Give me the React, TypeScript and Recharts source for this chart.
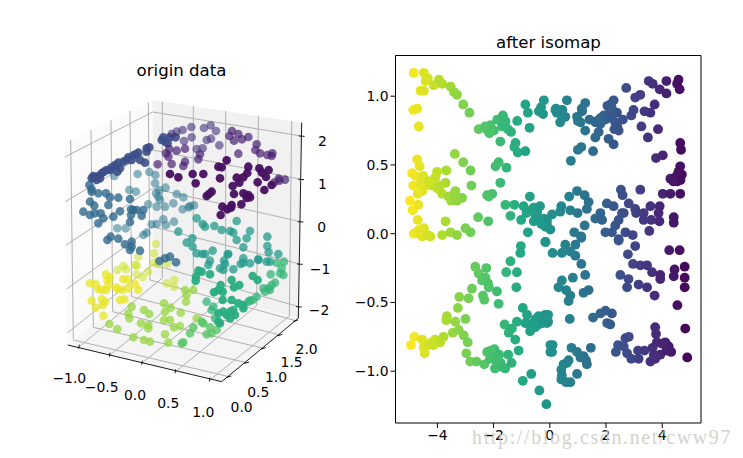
import React from "react";
import { ScatterChart, Scatter, XAxis, YAxis } from "recharts";

type Pt = [number, number];

// ---- right panel: isomap embedding [component 1, component 2]
const isomapPoints: Pt[] = [
  [-4.84, 1.17], [-4.48, 1.17], [-4.34, 1.13], [-4.42, 1.11], [-4.13, 1.08], [-3.94, 1.12], [-3.83, 1.09], [-3.53, 1.07],
  [-3.41, 1.03], [-3.3, 1.01], [-4.6, 1.04], [-4.48, 1.04], [-3.08, 0.94], [-2.86, 0.88], [-4.86, 0.9], [-4.72, 0.91],
  [-4.66, 0.78], [-2.53, 0.76], [-2.21, 0.75], [-2.11, 0.79], [-1.99, 0.75], [-1.87, 0.83], [-1.67, 0.86], [-1.58, 0.82],
  [-1.7, 0.78], [-1.49, 0.76], [-1.38, 0.74], [-1.16, 0.82], [-0.87, 0.94], [-0.78, 0.88], [-0.21, 0.97], [-0.31, 0.92],
  [-0.39, 0.89], [-0.24, 0.87], [-0.72, 0.77], [-1.76, 0.67], [-1.22, 0.66], [-1.26, 0.63], [-1.14, 0.59], [-0.87, 0.6],
  [-1.82, 0.52], [-1.93, 0.49], [-1.54, 0.48], [-1.76, 0.37], [-2.23, 0.28], [-2.05, 0.29], [-2.17, 0.27], [-3.38, 0.58],
  [-3.08, 0.52], [-2.82, 0.46], [-2.79, 0.35], [-4.72, 0.54], [-4.63, 0.49], [-4.9, 0.44], [-4.78, 0.42], [-3.68, 0.46],
  [-4.01, 0.45], [-4.07, 0.41], [-3.71, 0.37], [-4.54, 0.39], [-4.42, 0.35], [-4.86, 0.35], [-4.19, 0.35], [-4.01, 0.33],
  [-3.83, 0.29], [-4.54, 0.31], [-4.7, 0.29], [-3.36, 0.31], [-3.12, 0.26], [-3.45, 0.28], [-3.51, 0.24], [-3.3, 0.24],
  [-4.98, 0.24], [-4.68, 0.21], [-4.88, 0.17], [-4.7, 0.1], [-3.71, 0.09], [-2.55, 0.12], [-2.19, 0.09], [-4.48, 0.04],
  [-4.84, 0], [-4.66, 0], [-4.54, -0.02], [-4.25, -0.02], [-3.83, -0.01], [-3.53, 0.01], [-3.3, -0.01], [-3, 0.04],
  [-2.82, 0.01], [-1.58, 0.21], [-1.26, 0.21], [-1.4, 0.13], [-1.02, 0.1], [-0.93, 0.2], [-0.71, 0.27], [-0.57, 0.19],
  [-0.83, 0.15], [-0.45, 0.16], [-0.57, 0.09], [-0.21, 0.11], [-0.15, 0.05], [-0.78, 0.01], [-0.15, -0.06],
  [0.61, 0.97], [0.31, 0.9], [0.2, 0.9], [0.37, 0.81], [0.55, 0.85], [0.43, 0.86], [0.25, 0.88], [1.26, 0.95],
  [1.14, 0.91], [0.97, 0.85], [1.09, 0.81], [1.26, 0.75], [1.41, 0.83], [1.62, 0.81], [1.8, 0.84], [1.92, 0.86],
  [2.15, 0.94], [2.27, 0.97], [2.15, 0.89], [2.39, 0.88], [2.33, 0.81], [2.45, 0.75], [2.09, 0.69], [2.27, 0.65],
  [1.74, 0.74], [1.62, 0.7], [2.6, 0.83], [2.72, 1.06], [3.04, 0.99], [3.22, 1.01], [2.98, 0.9], [2.9, 0.86],
  [3.37, 0.89], [3.58, 0.88], [3.73, 0.94], [3.52, 1.11], [3.66, 1.09], [3.91, 1.05], [4.15, 1.02], [4.15, 1.11],
  [4.58, 1.12], [4.53, 1.09], [4.62, 1.05], [3.26, 0.78], [3.85, 0.76], [3.49, 0.7], [4.64, 0.66], [4.67, 0.61],
  [4.02, 0.57], [3.78, 0.55], [4.64, 0.49], [4.58, 0.45], [4.7, 0.43], [4.29, 0.4], [4.47, 0.41], [4.53, 0.38],
  [4.61, 0.41], [4.02, 0.29], [4.29, 0.29], [4.64, 0.29], [3.22, 0.32], [2.53, 0.32], [2.59, 0.28], [1.12, 0.63],
  [1, 0.61], [1.54, 0.6], [0.75, 0.53], [0.97, 0.31], [0.69, 0.27], [1.24, 0.28], [1.38, 0.23], [1.32, 0.18],
  [0.99, 0.15], [0.73, 0.17], [0.41, 0.2], [0.37, 0.16], [0.08, 0.14], [0.02, 0.03], [-0.1, 0.1], [1.24, 0.06],
  [0.87, 0.01], [1.12, -0.02], [2.03, 0.22], [2.27, 0.2], [2.63, 0.15], [2.81, 0.22], [3.04, 0.18], [3.07, 0.15],
  [3.34, 0.15], [3.58, 0.2], [3.91, 0.2], [3.87, 0.15], [3.9, 0.09], [3.61, 0.1], [3.34, 0.1], [4.41, 0.12],
  [4.41, 0.08], [3.54, 0.02], [1.8, 0.15], [1.62, 0.11], [1.86, 0.1], [1.98, 0.01], [2.33, 0.06], [2.45, 0.1],
  [2.21, 0.01], [2.45, -0.04], [2.69, 0.01], [2.95, -0.01], [2.57, 0.15],
  [-2.65, -0.24], [-2.26, -0.25], [-2.53, -0.29], [-2.29, -0.32], [-2.41, -0.34], [-2.17, -0.39], [-1.88, -0.42], [-2.77, -0.4],
  [-2.89, -0.47], [-3.22, -0.46], [-2.38, -0.45], [-2.33, -0.48], [-1.82, -0.51], [-3.27, -0.54], [-3.66, -0.6], [-3.68, -0.63],
  [-3.36, -0.64], [-3, -0.62], [-3.45, -0.72], [-3.24, -0.7], [-3.06, -0.74], [-2.92, -0.79], [-3.78, -0.75], [-4.08, -0.77],
  [-3.9, -0.79], [-4.13, -0.81], [-4.82, -0.75], [-4.54, -0.77], [-4.94, -0.81], [-4.49, -0.83], [-4.45, -0.87], [-4.31, -0.81],
  [-2.97, -0.87], [-2.83, -0.93], [-2.61, -0.93], [-2.33, -0.95], [-2.23, -0.86], [-1.97, -0.84], [-2.13, -0.91], [-1.95, -0.98],
  [-1.75, -0.94], [-1.59, -0.98], [-1.48, -0.88], [-1.36, -0.94], [-1.11, -0.85], [-1.23, -0.77], [-1.61, -0.66], [-1.46, -0.72],
  [-1.17, -0.64], [-1.35, -0.69], [-0.96, -0.54], [-0.81, -0.59], [-0.87, -0.65], [-0.7, -0.71], [-0.52, -0.68], [-0.4, -0.6],
  [-0.16, -0.59], [-0.1, -0.65], [-0.96, -1.07], [-0.66, -1.02], [-0.37, -1.14], [-0.12, -1.24], [-1.4, -0.2], [-1.55, -0.28],
  [-1.17, -0.28], [-1.19, -0.39], [-1.03, -0.09], [-1.05, -0.14], [-0.16, -0.06], [0.02, -0.81], [0.02, -0.86],
  [0.1, -0.14], [0.43, -0.14], [0.55, -0.08], [0.91, -0.08], [0.91, -0.16], [0.73, -0.13], [1.12, -0.22], [1.26, -0.3],
  [0.82, -0.32], [0.43, -0.34], [0.31, -0.39], [0.58, -0.41], [0.73, -0.45], [0.67, -0.49], [1.2, -0.43], [1.38, -0.41],
  [1.12, -0.03], [2.45, -0.05], [3.04, -0.09], [2.78, -0.15], [4.25, -0.12], [4.62, -0.12], [2.96, -0.22], [3.22, -0.23],
  [3.46, -0.23], [3.64, -0.28], [3.93, -0.3], [3.93, -0.33], [4.44, -0.26], [4.41, -0.31], [4.8, -0.24], [4.8, -0.32],
  [4.8, -0.39], [2.51, -0.3], [2.8, -0.33], [2.75, -0.39], [3.16, -0.37], [3.46, -0.39], [3.73, -0.45], [4.54, -0.52],
  [0.71, -0.62], [-0.06, -0.59], [-0.06, -0.64], [1.54, -0.61], [1.8, -0.58], [1.98, -0.56], [2.21, -0.58], [2.04, -0.65],
  [2.15, -0.66], [3.75, -0.68], [3.78, -0.73], [4.82, -0.69], [2.69, -0.76], [2.81, -0.75], [2.43, -0.81], [2.35, -0.86],
  [2.63, -0.82], [2.75, -0.87], [2.9, -0.91], [3.16, -0.91], [3.14, -0.85], [3.37, -0.85], [3.66, -0.83], [4.11, -0.79],
  [3.81, -0.79], [4.23, -0.82], [4.32, -0.86], [3.93, -0.88], [3.58, -0.93], [3.75, -0.91], [4.89, -0.9], [0.1, -0.81],
  [0.08, -0.86], [0.77, -0.83], [0.97, -0.86], [1.2, -0.89], [1.46, -0.83], [1.29, -0.92], [1.32, -0.95], [1.09, -0.9],
  [0.67, -0.92], [0.49, -0.95], [0.41, -0.99], [0.43, -1.03], [0.41, -1.06], [0.58, -1.08], [0.73, -1.08], [0.97, -1.02],
  [0.61, -0.94],
  // denser spots
  [2.05, 0.93], [2.2, 0.92], [2.1, 0.85], [1.98, 0.83], [2.2, 0.84], [2.3, 0.76], [2.4, 0.78], [1.8, 0.8], [1.68, 0.82],
  [1, 0.82], [1.15, 0.89], [0.45, 0.9], [0.22, 0.91], [-0.5, 0.13], [-0.4, 0.11], [-0.35, 0.2], [-0.65, 0.17], [-0.1, 0.07],
  [-0.3, 0.07], [-0.4, -0.66], [-0.5, -0.62], [-0.3, -0.62], [-0.25, -0.65], [-0.75, -0.66], [-0.6, -0.65], [-0.2, -0.63],
  [4.55, 0.43], [4.65, 0.39], [4.4, 0.38], [-4.7, 0.02], [-4.6, 0.03], [-4.35, -0.01], [-4.6, 0.36], [-4.5, 0.42], [-4.3, 0.38],
  [-3.9, 0.35], [-3.6, 0.27], [-3.4, 0.27], [-2.1, 0.77], [-2.3, 0.78], [-2.15, 0.73], [-1.6, 0.79], [-2.1, -0.85], [-2, -0.9],
  [-1.8, -0.88], [-1.9, -0.93], [-1.7, -0.97], [-2.3, -0.33], [-2.2, -0.36], [-4.2, -0.79], [3.7, -0.88], [4, -0.8], [4.15, -0.85],
];
const isomapXTicks = [-4, -2, 0, 2, 4];
const isomapYTicks = [-1, -0.5, 0, 0.5, 1];

// ---- left panel: the 3d view, everything in projected view units (3 units = 1px)
const purpleFront: Pt[] = [
  [683, 397], [725, 405], [703, 420], [688, 355], [716, 360], [696, 368], [708, 381], [655, 350], [652, 369], [640, 382],
  [620, 383], [628, 398], [608, 408], [612, 432], [640, 430], [655, 435], [660, 442], [650, 444], [634, 463], [605, 465],
  [603, 473], [577, 470], [592, 478], [572, 495], [575, 352], [590, 331], [565, 350], [570, 385], [497, 400], [520, 372],
  [488, 372], [445, 382], [420, 372], [545, 425], [537, 432], [530, 438],
];
const purpleMid: Pt[] = [
  [606, 243], [598, 258], [625, 252], [655, 261], [636, 268], [612, 272], [625, 311], [680, 283], [676, 300], [690, 310],
  [712, 315], [727, 310], [725, 318], [746, 386], [765, 389], [748, 392], [732, 398], [383, 343], [425, 342], [460, 348],
  [465, 335], [408, 310], [415, 320], [418, 297], [440, 302], [465, 296], [505, 328], [510, 313],
];
const indigoBack: Pt[] = [
  [458, 240], [440, 245], [425, 252], [484, 231], [522, 234], [542, 226], [558, 243], [485, 262], [462, 273], [500, 297],
  [518, 295], [543, 266], [530, 270], [568, 286],
];
const blueRidge: Pt[] = [
  [185, 385], [195, 382], [205, 378], [215, 370], [230, 360], [245, 352], [265, 338], [280, 335], [295, 322], [310, 316],
  [325, 308], [350, 295], [358, 292], [395, 270], [405, 275], [420, 262], [437, 262], [413, 280], [350, 305], [345, 338],
  [330, 330], [305, 330], [270, 355], [262, 365], [240, 360], [210, 385], [200, 390], [190, 378], [222, 365], [255, 345],
  [290, 330], [318, 312], [400, 262],
];
const tealBlue: Pt[] = [
  [178, 405], [185, 418], [205, 430], [185, 425], [228, 430], [240, 442], [265, 443], [300, 447], [235, 465], [180, 455],
  [193, 467], [160, 485], [180, 495], [195, 490], [212, 490], [205, 520], [220, 505], [250, 500], [270, 484], [303, 478],
  [310, 480], [320, 480], [300, 516], [303, 495], [340, 480], [335, 497], [242, 560], [232, 570], [265, 566], [285, 583],
  [305, 575], [300, 600], [330, 602], [305, 590], [388, 633], [405, 625], [420, 620], [438, 637],
];
const tealLight: Pt[] = [
  [253, 378], [323, 372], [358, 366], [376, 375], [375, 400], [318, 425], [298, 420], [388, 420], [407, 413], [378, 430],
  [385, 440], [355, 463], [380, 470], [405, 470], [430, 460], [440, 432], [460, 442], [390, 450], [480, 468], [492, 466],
  [458, 478], [476, 472], [400, 508], [365, 523], [380, 522], [408, 525], [432, 515], [350, 548], [340, 555], [262, 535],
  [287, 535],
];
const greenTeal: Pt[] = [
  [445, 545], [500, 505], [518, 522], [525, 530], [553, 528], [575, 540], [620, 513], [600, 543], [610, 548], [660, 543],
  [470, 578], [487, 565], [488, 590], [500, 610], [525, 612], [548, 602], [595, 612], [640, 592], [620, 570], [650, 565],
  [712, 560], [712, 588], [716, 607], [685, 628], [745, 612], [640, 625], [517, 612], [593, 613], [540, 632], [535, 645],
  [582, 632], [585, 642], [570, 655], [580, 660], [610, 658], [632, 642], [640, 638], [660, 640], [685, 630], [710, 635],
  [720, 635],
];
const greenMid: Pt[] = [
  [505, 662], [515, 665], [498, 680], [497, 692], [540, 673], [605, 690], [628, 705], [612, 712], [668, 678], [683, 690],
  [552, 727], [572, 705], [565, 720], [578, 725], [578, 750], [580, 785], [565, 790], [600, 785], [610, 780], [615, 795],
  [600, 805], [565, 815], [570, 820], [590, 795], [640, 765], [640, 775], [625, 760], [605, 750],
];
const greenRight: Pt[] = [
  [762, 635], [740, 638], [755, 655], [750, 670], [760, 675], [722, 673], [735, 698], [725, 705], [715, 715], [700, 715],
  [720, 720], [705, 725], [680, 740], [660, 752], [668, 750], [655, 755], [555, 805], [530, 755], [550, 770], [545, 780],
];
const greenBottom: Pt[] = [
  [540, 832], [560, 840], [545, 850], [530, 853], [520, 820], [515, 815], [490, 832], [480, 850], [460, 877], [455, 880],
];
const limeFloor: Pt[] = [
  [490, 720], [465, 720], [470, 735], [468, 755], [402, 760], [422, 773], [405, 785], [452, 788], [500, 805], [402, 810],
  [420, 810], [432, 832], [450, 828], [405, 853], [415, 878], [342, 780], [358, 792], [305, 770], [295, 790], [298, 805],
  [333, 820], [355, 825], [355, 835], [238, 822], [262, 837], [310, 862], [342, 870], [360, 875],
];
const yellowGreen: Pt[] = [
  [433, 690], [410, 700], [432, 710], [355, 665], [338, 682], [320, 673], [320, 647], [325, 620], [372, 610], [378, 582],
  [372, 638], [385, 642], [412, 640], [262, 660], [288, 658], [280, 648], [315, 645],
];
const yellowFront: Pt[] = [
  [228, 673], [240, 682], [232, 690], [180, 700], [197, 703], [205, 717], [215, 720], [228, 720], [235, 705], [258, 712],
  [265, 718], [280, 688], [293, 688], [315, 702], [325, 720], [295, 715], [278, 720], [270, 750], [283, 748], [185, 752],
  [197, 773], [225, 755], [215, 748], [220, 797], [218, 765],
];
const originGroups: { points: Pt[]; t: number; alpha: number }[] = [
  { points: yellowFront, t: 0.97, alpha: 0.75 },
  { points: yellowGreen, t: 0.92, alpha: 0.55 },
  { points: limeFloor, t: 0.84, alpha: 0.75 },
  { points: greenBottom, t: 0.74, alpha: 0.8 },
  { points: greenRight, t: 0.66, alpha: 0.75 },
  { points: greenMid, t: 0.62, alpha: 0.95 },
  { points: greenTeal, t: 0.54, alpha: 0.75 },
  { points: tealLight, t: 0.4, alpha: 0.55 },
  { points: tealBlue, t: 0.34, alpha: 0.8 },
  { points: blueRidge, t: 0.24, alpha: 0.9 },
  { points: indigoBack, t: 0.14, alpha: 0.6 },
  { points: purpleMid, t: 0.09, alpha: 0.7 },
  { points: purpleFront, t: 0.04, alpha: 0.95 },
];

const leftPane: Pt[] = [[103, 280], [368, 150], [368, 675], [113, 885]];
const backPane: Pt[] = [[368, 150], [815, 218], [805, 805], [368, 675]];
const floorPane: Pt[] = [[113, 885], [368, 675], [805, 805], [575, 995]];
const panes = [
  { corners: leftPane, fill: "#fbfbfb" },
  { corners: backPane, fill: "#f1f1f1" },
  { corners: floorPane, fill: "#f5f5f5" },
];

const gridSegments: Pt[][] = [
  // back wall, x ticks
  [[397, 155], [397, 684]], [[490, 168], [490, 712]], [[587, 182], [587, 740]], [[685, 197], [680, 767]], [[785, 213], [778, 798]],
  // back wall, z ticks
  [[368, 186], [815, 258]], [[368, 300], [813, 388]], [[368, 415], [811, 515]], [[368, 530], [809, 642]], [[368, 644], [806, 770]],
  // left wall, z ticks
  [[368, 186], [104, 321]], [[368, 300], [106, 455]], [[368, 415], [108, 585]], [[368, 530], [110, 717]], [[368, 644], [112, 849]],
  // left wall, y ticks
  [[122, 270], [130, 870]], [[183, 240], [190, 832]], [[243, 210], [248, 785]], [[300, 183], [305, 740]], [[355, 157], [360, 690]],
  // floor, x ticks
  [[397, 684], [148, 890]], [[490, 712], [240, 915]], [[587, 740], [337, 938]], [[680, 767], [437, 965]], [[778, 798], [540, 990]],
  // floor, y ticks
  [[130, 870], [597, 980]], [[190, 832], [650, 938]], [[248, 785], [700, 895]], [[305, 740], [750, 855]], [[360, 690], [797, 812]],
];
const axisSegments: Pt[][] = [
  [[815, 218], [805, 805]],
  [[113, 885], [575, 995]],
  [[575, 995], [805, 805]],
  // tick marks
  [[806, 258], [824, 259]], [[805, 388], [822, 389]], [[803, 515], [820, 516]], [[801, 642], [818, 643]], [[798, 770], [815, 771]],
  [[148, 884], [146, 896]], [[240, 908], [238, 920]], [[337, 932], [335, 944]], [[437, 958], [435, 970]], [[540, 983], [538, 995]],
  [[590, 982], [604, 978]], [[643, 940], [657, 936]], [[693, 897], [707, 893]], [[743, 857], [757, 853]], [[790, 814], [804, 810]],
];
const originLabels: { u: number; v: number; text: string }[] = [
  { u: 118, v: 985, text: "−1.0" }, { u: 215, v: 1010, text: "−0.5" }, { u: 315, v: 1035, text: "0.0" },
  { u: 415, v: 1060, text: "0.5" }, { u: 520, v: 1087, text: "1.0" },
  { u: 635, v: 1072, text: "0.0" }, { u: 685, v: 1025, text: "0.5" }, { u: 738, v: 982, text: "1.0" },
  { u: 785, v: 937, text: "1.5" }, { u: 830, v: 897, text: "2.0" },
  { u: 877, v: 272, text: "2" }, { u: 877, v: 402, text: "1" }, { u: 875, v: 530, text: "0" },
  { u: 870, v: 658, text: "−1" }, { u: 867, v: 780, text: "−2" },
];

const FONT = "'DejaVu Sans', sans-serif";
const VIRIDIS = ["#440154", "#482475", "#414487", "#355f8d", "#2a788e", "#21918c", "#22a884", "#44bf70", "#7ad151", "#bddf26", "#fde725"];

// linear lookup in the viridis stops, t in 0..1
function viridis(t: number) {
  const p = Math.min(Math.max(t, 0), 1) * (VIRIDIS.length - 1);
  const i = Math.min(Math.floor(p), VIRIDIS.length - 2);
  const a = parseInt(VIRIDIS[i].slice(1), 16);
  const b = parseInt(VIRIDIS[i + 1].slice(1), 16);
  const mix = (s: number) => Math.round(((a >> s) & 255) * (1 - (p - i)) + ((b >> s) & 255) * (p - i));
  return `rgb(${mix(16)},${mix(8)},${mix(0)})`;
}

const toRows = (pts: Pt[]) => pts.map(([u, v]) => ({ u, v }));
const noMark = () => <g />;

const polygonLine = (fill: string) => (props: any) => (
  <polygon points={props.points.map((p: any) => `${p.x},${p.y}`).join(" ")} fill={fill} stroke="none" />
);

const formatTick = (v: number, digits: number) => v.toFixed(digits).replace("-", "−");

const titleStyle: React.CSSProperties = {
  position: "absolute",
  transform: "translateX(-50%)",
  fontFamily: FONT,
  fontSize: 16.6,
  lineHeight: "20px",
  whiteSpace: "nowrap",
  color: "#000",
};

export default function App() {
  const tickStyle = { fontFamily: FONT, fontSize: 13.9, fill: "#000" };
  const isomapRows = isomapPoints.map(([x, y]) => ({ x, y }));

  return (
    <div style={{ position: "absolute", left: 0, top: 0, width: 743, height: 458, background: "#fff", overflow: "hidden" }}>
      <div style={{ position: "absolute", left: 0, top: 0 }}>
        <ScatterChart width={390} height={458} margin={{ top: 0, right: 0, bottom: 0, left: 0 }}>
          <XAxis type="number" dataKey="u" domain={[-90, 1080]} hide />
          <YAxis type="number" dataKey="v" domain={[-150, 1224]} reversed hide />
          {panes.map((pane, i) => (
            <Scatter
              key={`pane-${i}`}
              data={toRows(pane.corners)}
              shape={noMark}
              line={polygonLine(pane.fill)}
              isAnimationActive={false}
            />
          ))}
          {gridSegments.map((seg, i) => (
            <Scatter
              key={`grid-${i}`}
              data={toRows(seg)}
              shape={noMark}
              line={{ stroke: "#b0b0b0", strokeWidth: 1 }}
              isAnimationActive={false}
            />
          ))}
          {axisSegments.map((seg, i) => (
            <Scatter
              key={`axis-${i}`}
              data={toRows(seg)}
              shape={noMark}
              line={{ stroke: "#000", strokeWidth: 0.9 }}
              isAnimationActive={false}
            />
          ))}
          {originGroups.map((group, i) => (
            <Scatter
              key={`group-${i}`}
              data={toRows(group.points)}
              isAnimationActive={false}
              shape={(p: any) => <circle cx={p.cx} cy={p.cy} r={4.3} fill={viridis(group.t)} fillOpacity={group.alpha} />}
            />
          ))}
          <Scatter
            data={originLabels}
            isAnimationActive={false}
            shape={(p: any) => (
              <text x={p.cx} y={p.cy} textAnchor="middle" dominantBaseline="central" {...tickStyle}>
                {p.payload.text}
              </text>
            )}
          />
        </ScatterChart>
      </div>

      <div style={{ position: "absolute", left: 350, top: 0 }}>
        <ScatterChart width={393} height={458} margin={{ top: 0, right: 0, bottom: 0, left: 0 }}>
          <XAxis
            type="number"
            dataKey="x"
            domain={[-5.49, 5.38]}
            ticks={isomapXTicks}
            tickFormatter={(v: number) => formatTick(v, 0)}
            tick={tickStyle}
            tickLine={{ stroke: "#000" }}
            axisLine={{ stroke: "#000" }}
            tickSize={5}
            height={35}
          />
          <XAxis xAxisId="top" orientation="top" type="number" domain={[0, 1]} tick={false} tickLine={false} axisLine={{ stroke: "#000" }} height={55.5} />
          <YAxis
            type="number"
            dataKey="y"
            domain={[-1.377, 1.296]}
            ticks={isomapYTicks}
            tickFormatter={(v: number) => formatTick(v, 1)}
            tick={tickStyle}
            tickLine={{ stroke: "#000" }}
            axisLine={{ stroke: "#000" }}
            tickSize={5}
            width={45.5}
          />
          <YAxis yAxisId="right" orientation="right" type="number" domain={[0, 1]} tick={false} tickLine={false} axisLine={{ stroke: "#000" }} width={42} />
          <Scatter
            data={isomapRows}
            isAnimationActive={false}
            shape={(p: any) => <circle cx={p.cx} cy={p.cy} r={4.9} fill={viridis((5 - p.payload.x) / 10)} />}
          />
        </ScatterChart>
      </div>

      <div style={{ ...titleStyle, left: 181.5, top: 61 }}>origin data</div>
      <div style={{ ...titleStyle, left: 548.5, top: 33 }}>after isomap</div>
      <div
        style={{
          position: "absolute",
          left: 472,
          top: 426,
          fontFamily: "'Liberation Serif', serif",
          fontSize: 20,
          letterSpacing: 1.63,
          whiteSpace: "nowrap",
          color: "#c9c9c2",
          opacity: 0.8,
        }}
      >
        http://blog.csdn.net/cww97
      </div>
    </div>
  );
}
